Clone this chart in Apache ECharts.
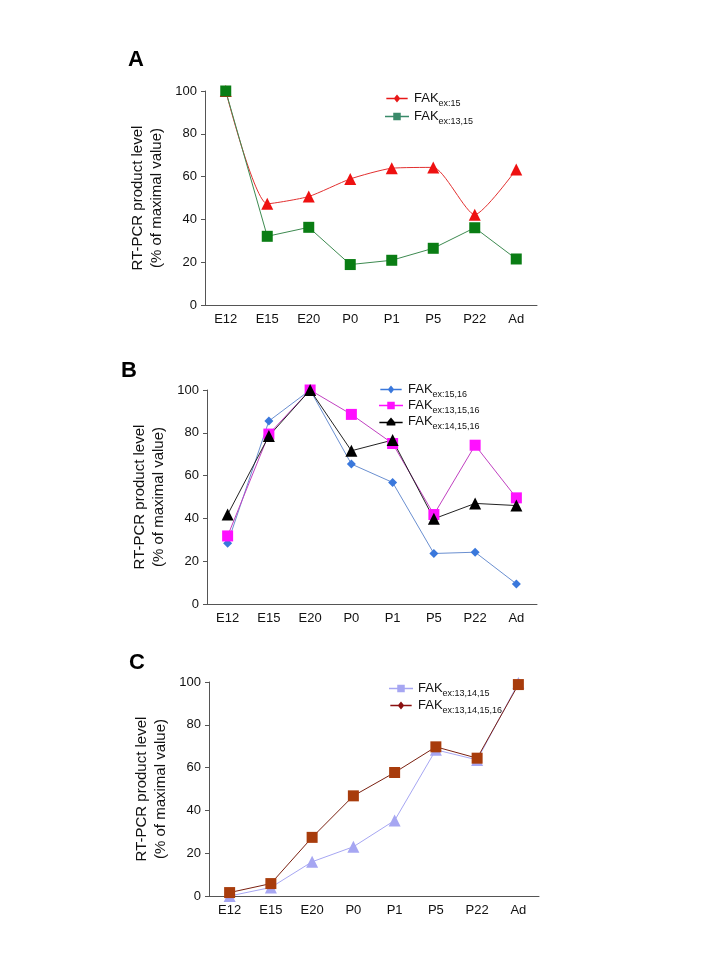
<!DOCTYPE html>
<html>
<head>
<meta charset="utf-8">
<script src="https://cdn.jsdelivr.net/npm/echarts@6/dist/echarts.min.js"></script>
<style>
html,body{margin:0;padding:0;background:#fff;}
#chart{width:720px;height:960px;}
</style>
</head>
<body>
<div id="chart"></div>
<script>
// ---- data ----
var categories = ['E12', 'E15', 'E20', 'P0', 'P1', 'P5', 'P22', 'Ad'];
var yTicks = [0, 20, 40, 60, 80, 100];
var panelLabels = ['A', 'B', 'C'];
var yTitle = 'RT-PCR product level\n(% of maximal value)';

// Panel A
var fakEx15 = [100, 47.3, 50.7, 58.9, 63.9, 64.3, 42.2, 63.3];
var fakEx13_15 = [100, 32.1, 36.3, 18.9, 20.9, 26.5, 36.1, 21.5];
// Panel B
var fakEx15_16 = [28.4, 85.5, 100, 65.4, 56.8, 23.6, 24.2, 9.4];
var fakEx13_15_16 = [31.8, 79.4, 100, 88.6, 75.0, 41.8, 74.2, 49.6];
var fakEx14_15_16 = [41.8, 78.5, 100, 71.6, 76.6, 39.8, 47.0, 46.0];
// Panel C
var fakEx13_14_15 = [0, 4.0, 16.0, 23.0, 35.3, 68.3, 63.6, 99.5];
var fakEx13_14_15_16 = [1.6, 5.8, 27.4, 46.8, 57.7, 69.7, 64.4, 98.8];

// ---- layout ----
var grids = [
  {left: 205, top: 91, width: 332, height: 214},
  {left: 207, top: 390, width: 330, height: 214},
  {left: 209, top: 682, width: 330, height: 214}
];
var FONT = '"Liberation Sans", Arial, sans-serif';

var xAxes = grids.map(function (g, i) {
  return {
    type: 'category', gridIndex: i, data: categories,
    boundaryGap: true,
    axisLine: {lineStyle: {color: '#555', width: 1}},
    axisTick: {alignWithLabel: true, length: 4, lineStyle: {color: '#555'}},
    axisLabel: {color: '#111', fontSize: 13, fontFamily: FONT, margin: 8}
  };
});
var yAxes = grids.map(function (g, i) {
  return {
    type: 'value', gridIndex: i, min: 0, max: 100, interval: 20,
    name: yTitle, nameLocation: 'middle', nameRotate: 90, nameGap: 39,
    nameTextStyle: {color: '#111', fontSize: 15, fontFamily: FONT, lineHeight: 19},
    axisLine: {show: true, lineStyle: {color: '#555', width: 1}},
    axisTick: {show: true, length: 4, lineStyle: {color: '#555'}},
    splitLine: {show: false},
    axisLabel: {color: '#111', fontSize: 13, fontFamily: FONT, margin: 8,
      formatter: function (v) { return yTicks.indexOf(v) >= 0 ? String(v) : ''; }}
  };
});

function mkSeries(name, data, idx, color, lineColor, symbol, size, extra) {
  var s = {
    name: name, type: 'line', data: data,
    xAxisIndex: idx, yAxisIndex: idx,
    symbol: symbol, symbolSize: size,
    itemStyle: {color: color},
    lineStyle: {color: lineColor, width: 1},
    emphasis: {disabled: true},
    animation: false
  };
  if (extra) for (var k in extra) s[k] = extra[k];
  return s;
}

var series = [
  mkSeries('FAKex:15', fakEx15, 0, '#ee1111', '#e23030', 'triangle', 12, {smooth: 0.2}),
  mkSeries('FAKex:13,15', fakEx13_15, 0, '#0a7d14', '#3d8a50', 'rect', 11),
  mkSeries('FAKex:15,16', fakEx15_16, 1, '#3a78dc', '#6a8fd0', 'diamond', 9),
  mkSeries('FAKex:13,15,16', fakEx13_15_16, 1, '#ff10ff', '#c040c0', 'rect', 11),
  mkSeries('FAKex:14,15,16', fakEx14_15_16, 1, '#000000', '#222222', 'triangle', 12),
  mkSeries('FAKex:13,14,15', fakEx13_14_15, 2, '#a6a6f2', '#a6a6f2', 'triangle', 12),
  mkSeries('FAKex:13,14,15,16', fakEx13_14_15_16, 2, '#a83c0c', '#7a2010', 'rect', 11)
];

// legend icons: line with a marker in the middle
var ICON_DIAMOND = 'path://M0,9 L12,9 L16,4 L20,9 L32,9 L32,11 L20,11 L16,16 L12,11 L0,11 Z';
var ICON_SQUARE = 'path://M0,9 L11,9 L11,5 L21,5 L21,9 L32,9 L32,11 L21,11 L21,15 L11,15 L11,11 L0,11 Z';
var ICON_TRI = 'path://M0,9 L11,9 L16,3 L21,9 L32,9 L32,11 L22,11 L22,14 L10,14 L10,11 L0,11 Z';

function legendFmt(name) { return '{a|FAK}{s|' + name.slice(3) + '}'; }
var legendRich = {
  a: {fontSize: 13, fontFamily: FONT, color: '#111', verticalAlign: 'bottom'},
  s: {fontSize: 9, fontFamily: FONT, color: '#111', verticalAlign: 'bottom', padding: [0, 0, -3, 0]}
};
function mkLegend(left, top, gap, items) {
  return {
    left: left, top: top, orient: 'vertical', itemGap: gap,
    itemWidth: 24, itemHeight: 8, selectedMode: false,
    formatter: legendFmt,
    textStyle: {rich: legendRich},
    data: items
  };
}

var legends = [
  mkLegend(380, 87, 2, [
    {name: 'FAKex:15', icon: ICON_DIAMOND, itemStyle: {color: '#e81818'}},
    {name: 'FAKex:13,15', icon: ICON_SQUARE, itemStyle: {color: '#3a8a6a'}}
  ]),
  mkLegend(374, 378, 0, [
    {name: 'FAKex:15,16', icon: ICON_DIAMOND, itemStyle: {color: '#3a78dc'}},
    {name: 'FAKex:13,15,16', icon: ICON_SQUARE, itemStyle: {color: '#ff10ff'}},
    {name: 'FAKex:14,15,16', icon: ICON_TRI, itemStyle: {color: '#000'}}
  ]),
  mkLegend(384, 677, 1, [
    {name: 'FAKex:13,14,15', icon: ICON_SQUARE, itemStyle: {color: '#a6a6f2'}},
    {name: 'FAKex:13,14,15,16', icon: ICON_DIAMOND, itemStyle: {color: '#8b1010'}}
  ])
];

var titleTops = [44, 355, 647];
var titleLefts = [123, 116, 124];
var titles = panelLabels.map(function (t, i) {
  return {text: t, left: titleLefts[i], top: titleTops[i],
    textStyle: {fontSize: 22, fontWeight: 'bold', fontFamily: FONT, color: '#000'}};
});

var chart = echarts.init(document.getElementById('chart'), null, {renderer: 'canvas'});
chart.setOption({
  backgroundColor: '#fff',
  animation: false,
  title: titles,
  legend: legends,
  grid: grids,
  xAxis: xAxes,
  yAxis: yAxes,
  series: series
});
</script>
</body>
</html>
